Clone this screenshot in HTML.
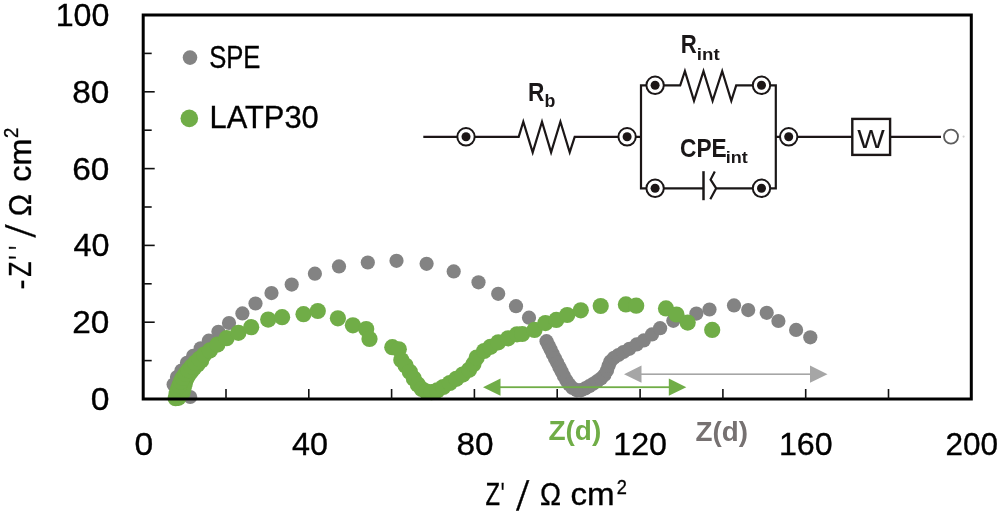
<!DOCTYPE html>
<html lang="en">
<head>
<meta charset="utf-8">
<title>Nyquist plot</title>
<style>
html,body{margin:0;padding:0;background:#ffffff;}
body{width:1000px;height:514px;overflow:hidden;}
svg{display:block;}
text{font-family:"Liberation Sans",sans-serif;fill:#000;}
.n{stroke:#000;stroke-width:0.35px;}
.b{font-weight:bold;}
</style>
</head>
<body>
<svg width="1000" height="514" viewBox="0 0 1000 514">
<defs><filter id="soft" x="-5%" y="-5%" width="110%" height="110%"><feGaussianBlur stdDeviation="0.45"/></filter></defs>
<rect x="0" y="0" width="1000" height="514" fill="#ffffff"/>

<g fill="#838383">
<circle cx="190.2" cy="397.0" r="7.1"/>
<circle cx="173.6" cy="384.5" r="7.1"/>
<circle cx="177.0" cy="377.0" r="7.1"/>
<circle cx="181.5" cy="370.5" r="7.1"/>
<circle cx="187.0" cy="362.8" r="7.1"/>
<circle cx="193.1" cy="355.9" r="7.1"/>
<circle cx="200.7" cy="348.3" r="7.1"/>
<circle cx="208.8" cy="340.7" r="7.1"/>
<circle cx="218.4" cy="331.8" r="7.1"/>
<circle cx="229.0" cy="323.0" r="7.1"/>
<circle cx="242.4" cy="313.4" r="7.1"/>
<circle cx="255.5" cy="303.5" r="7.1"/>
<circle cx="271.5" cy="293.1" r="7.1"/>
<circle cx="291.7" cy="284.6" r="7.1"/>
<circle cx="314.9" cy="273.7" r="7.1"/>
<circle cx="339.0" cy="266.4" r="7.1"/>
<circle cx="367.8" cy="262.5" r="7.1"/>
<circle cx="396.5" cy="260.8" r="7.1"/>
<circle cx="426.6" cy="263.8" r="7.1"/>
<circle cx="453.7" cy="271.4" r="7.1"/>
<circle cx="478.5" cy="282.3" r="7.1"/>
<circle cx="498.2" cy="293.8" r="7.1"/>
<circle cx="516.0" cy="306.2" r="7.1"/>
<circle cx="529.0" cy="317.7" r="7.1"/>
<circle cx="546.5" cy="341.2" r="7.1"/>
<circle cx="548.6" cy="345.4" r="7.1"/>
<circle cx="550.6" cy="349.6" r="7.1"/>
<circle cx="552.8" cy="354.0" r="7.1"/>
<circle cx="555.0" cy="358.4" r="7.1"/>
<circle cx="557.2" cy="362.8" r="7.1"/>
<circle cx="559.4" cy="367.2" r="7.1"/>
<circle cx="561.6" cy="371.6" r="7.1"/>
<circle cx="563.9" cy="376.0" r="7.1"/>
<circle cx="566.4" cy="380.4" r="7.1"/>
<circle cx="569.2" cy="384.6" r="7.1"/>
<circle cx="572.6" cy="388.0" r="7.1"/>
<circle cx="576.8" cy="390.2" r="7.1"/>
<circle cx="581.0" cy="390.2" r="7.1"/>
<circle cx="585.2" cy="388.4" r="7.1"/>
<circle cx="589.2" cy="386.2" r="7.1"/>
<circle cx="593.2" cy="383.8" r="7.1"/>
<circle cx="597.2" cy="381.2" r="7.1"/>
<circle cx="601.0" cy="378.4" r="7.1"/>
<circle cx="604.4" cy="375.0" r="7.1"/>
<circle cx="607.0" cy="370.6" r="7.1"/>
<circle cx="608.6" cy="365.8" r="7.1"/>
<circle cx="610.4" cy="361.4" r="7.1"/>
<circle cx="614.0" cy="357.8" r="7.1"/>
<circle cx="618.4" cy="355.0" r="7.1"/>
<circle cx="623.4" cy="352.0" r="7.1"/>
<circle cx="629.4" cy="348.8" r="7.1"/>
<circle cx="636.7" cy="344.4" r="7.1"/>
<circle cx="643.8" cy="340.4" r="7.1"/>
<circle cx="652.0" cy="334.4" r="7.1"/>
<circle cx="660.1" cy="328.2" r="7.1"/>
<circle cx="673.3" cy="320.8" r="7.1"/>
<circle cx="696.4" cy="313.6" r="7.1"/>
<circle cx="709.5" cy="309.5" r="7.1"/>
<circle cx="734.0" cy="305.4" r="7.1"/>
<circle cx="748.2" cy="310.1" r="7.1"/>
<circle cx="766.7" cy="312.8" r="7.1"/>
<circle cx="778.4" cy="321.0" r="7.1"/>
<circle cx="796.1" cy="329.9" r="7.1"/>
<circle cx="810.3" cy="337.3" r="7.1"/>
</g>
<g fill="#70ad47">
<circle cx="184.8" cy="383.6" r="8.1"/>
<circle cx="186.2" cy="379.2" r="8.1"/>
<circle cx="188.4" cy="375.2" r="8.1"/>
<circle cx="191.0" cy="371.6" r="8.1"/>
<circle cx="194.0" cy="368.0" r="8.1"/>
<circle cx="197.4" cy="364.4" r="8.1"/>
<circle cx="201.2" cy="360.6" r="8.1"/>
<circle cx="175.6" cy="398.2" r="8.1"/>
<circle cx="178.4" cy="397.8" r="8.1"/>
<circle cx="176.6" cy="393.8" r="8.1"/>
<circle cx="182.6" cy="392.6" r="8.1"/>
<circle cx="177.8" cy="389.6" r="8.1"/>
<circle cx="183.6" cy="388.2" r="8.1"/>
<circle cx="179.3" cy="385.6" r="8.1"/>
<circle cx="180.8" cy="381.6" r="8.1"/>
<circle cx="182.8" cy="377.8" r="8.1"/>
<circle cx="185.4" cy="374.0" r="8.1"/>
<circle cx="188.4" cy="370.2" r="8.1"/>
<circle cx="191.6" cy="366.6" r="8.1"/>
<circle cx="195.2" cy="362.8" r="8.1"/>
<circle cx="199.4" cy="358.8" r="8.1"/>
<circle cx="204.2" cy="354.6" r="8.1"/>
<circle cx="209.8" cy="350.4" r="8.1"/>
<circle cx="217.4" cy="344.6" r="8.1"/>
<circle cx="226.6" cy="338.2" r="8.1"/>
<circle cx="238.4" cy="332.8" r="8.1"/>
<circle cx="251.2" cy="327.2" r="8.1"/>
<circle cx="268.2" cy="319.6" r="8.1"/>
<circle cx="282.1" cy="317.2" r="8.1"/>
<circle cx="303.5" cy="314.2" r="8.1"/>
<circle cx="317.8" cy="311.0" r="8.1"/>
<circle cx="337.9" cy="318.3" r="8.1"/>
<circle cx="352.9" cy="325.3" r="8.1"/>
<circle cx="366.2" cy="329.1" r="8.1"/>
<circle cx="369.5" cy="338.9" r="8.1"/>
<circle cx="392.3" cy="347.2" r="8.1"/>
<circle cx="398.8" cy="349.3" r="8.1"/>
<circle cx="401.3" cy="360.0" r="8.1"/>
<circle cx="405.6" cy="365.6" r="8.1"/>
<circle cx="409.8" cy="371.8" r="8.1"/>
<circle cx="413.8" cy="378.4" r="8.1"/>
<circle cx="417.8" cy="384.4" r="8.1"/>
<circle cx="421.8" cy="389.0" r="8.1"/>
<circle cx="426.3" cy="391.6" r="8.1"/>
<circle cx="431.5" cy="392.2" r="8.1"/>
<circle cx="437.2" cy="390.4" r="8.1"/>
<circle cx="443.2" cy="387.0" r="8.1"/>
<circle cx="449.8" cy="383.0" r="8.1"/>
<circle cx="456.3" cy="378.8" r="8.1"/>
<circle cx="462.7" cy="374.6" r="8.1"/>
<circle cx="469.1" cy="369.8" r="8.1"/>
<circle cx="473.4" cy="364.2" r="8.1"/>
<circle cx="476.7" cy="357.6" r="8.1"/>
<circle cx="484.1" cy="351.0" r="8.1"/>
<circle cx="490.5" cy="346.8" r="8.1"/>
<circle cx="498.3" cy="342.3" r="8.1"/>
<circle cx="508.1" cy="338.3" r="8.1"/>
<circle cx="517.0" cy="334.3" r="8.1"/>
<circle cx="522.2" cy="334.0" r="8.1"/>
<circle cx="534.5" cy="329.9" r="8.1"/>
<circle cx="545.4" cy="323.1" r="8.1"/>
<circle cx="556.3" cy="319.9" r="8.1"/>
<circle cx="567.2" cy="315.0" r="8.1"/>
<circle cx="580.8" cy="310.3" r="8.1"/>
<circle cx="600.7" cy="306.0" r="8.1"/>
<circle cx="625.9" cy="304.4" r="8.1"/>
<circle cx="636.2" cy="305.7" r="8.1"/>
<circle cx="666.0" cy="308.4" r="8.1"/>
<circle cx="676.5" cy="314.5" r="8.1"/>
<circle cx="687.7" cy="322.6" r="8.1"/>
<circle cx="712.2" cy="329.9" r="8.1"/>
</g>
<g fill="#70ad47" stroke="none"><rect x="499.5" y="386.3" width="170.3" height="1.8"/><polygon points="483.0,387.2 500.5,378.6 500.5,395.8"/><polygon points="686.3,387.2 668.8,378.6 668.8,395.8"/></g>
<g fill="#a6a6a6" stroke="none"><rect x="640.5" y="373.4" width="170.5" height="1.6"/><polygon points="624.0,374.2 641.5,365.6 641.5,382.8"/><polygon points="827.5,374.2 810.0,365.6 810.0,382.8"/></g>
<rect x="143.2" y="15.0" width="828.1" height="384.0" fill="none" stroke="#000" stroke-width="3"/>
<g stroke="#111" stroke-width="1.6">
<line x1="143.2" y1="360.6" x2="151.7" y2="360.6"/>
<line x1="143.2" y1="322.2" x2="154.7" y2="322.2"/>
<line x1="143.2" y1="283.8" x2="151.7" y2="283.8"/>
<line x1="143.2" y1="245.4" x2="154.7" y2="245.4"/>
<line x1="143.2" y1="207.0" x2="151.7" y2="207.0"/>
<line x1="143.2" y1="168.6" x2="154.7" y2="168.6"/>
<line x1="143.2" y1="130.2" x2="151.7" y2="130.2"/>
<line x1="143.2" y1="91.8" x2="154.7" y2="91.8"/>
<line x1="143.2" y1="53.4" x2="151.7" y2="53.4"/>
<line x1="226.0" y1="399.0" x2="226.0" y2="389.0"/>
<line x1="308.8" y1="399.0" x2="308.8" y2="389.0"/>
<line x1="391.6" y1="399.0" x2="391.6" y2="389.0"/>
<line x1="474.4" y1="399.0" x2="474.4" y2="389.0"/>
<line x1="557.2" y1="399.0" x2="557.2" y2="389.0"/>
<line x1="640.1" y1="399.0" x2="640.1" y2="389.0"/>
<line x1="722.9" y1="399.0" x2="722.9" y2="389.0"/>
<line x1="805.7" y1="399.0" x2="805.7" y2="389.0"/>
<line x1="888.5" y1="399.0" x2="888.5" y2="389.0"/>
</g>
<circle cx="190" cy="57.6" r="7.3" fill="#838383"/>
<circle cx="189.3" cy="118.4" r="8.8" fill="#70ad47"/>
<g filter="url(#soft)">
<g fill="none" stroke="#1a1718" stroke-width="2.2" stroke-linejoin="miter" stroke-miterlimit="10" stroke-linecap="butt">
<path d="M423.3,136.8 H518.7 L523.3,121.8 L532.7,152.4 L542,121.8 L551.1,152.4 L560.4,121.8 L569.7,152.4 L574.7,136.8 H641.0"/>
<path d="M655,85.3 H641.0 V188.3 H655"/>
<path d="M761.5,85.3 H775.8 V188.3 H761.5"/>
<path d="M655,85.3 H680.2 L684.9,71.2 L694,100.8 L703.5,71.2 L712.6,100.8 L722.2,71.2 L731.3,100.8 L736.2,85.3 H761.5"/>
<path d="M655,188.3 H703.5"/>
<path d="M703.5,171.2 V200.2" stroke-width="2.5"/>
<path d="M714.8,171.4 L710.6,179.6 L716.2,188.3 L710.3,199.2 M715.6,188.3 H761.5"/>
<path d="M775.8,136.8 H852.3 M890.1,136.8 H941"/>
<rect x="852.3" y="118.9" width="37.8" height="36" stroke-width="2.4"/>
</g>
<circle cx="466.0" cy="136.8" r="8.7" fill="#fff" stroke="#1a1718" stroke-width="2"/><circle cx="466.0" cy="136.8" r="4.5" fill="#1a1718"/>
<circle cx="627.1" cy="136.8" r="8.7" fill="#fff" stroke="#1a1718" stroke-width="2"/><circle cx="627.1" cy="136.8" r="4.5" fill="#1a1718"/>
<circle cx="655.1" cy="85.3" r="8.7" fill="#fff" stroke="#1a1718" stroke-width="2"/><circle cx="655.1" cy="85.3" r="4.5" fill="#1a1718"/>
<circle cx="761.5" cy="85.3" r="8.7" fill="#fff" stroke="#1a1718" stroke-width="2"/><circle cx="761.5" cy="85.3" r="4.5" fill="#1a1718"/>
<circle cx="655.1" cy="188.3" r="8.7" fill="#fff" stroke="#1a1718" stroke-width="2"/><circle cx="655.1" cy="188.3" r="4.5" fill="#1a1718"/>
<circle cx="761.5" cy="188.3" r="8.7" fill="#fff" stroke="#1a1718" stroke-width="2"/><circle cx="761.5" cy="188.3" r="4.5" fill="#1a1718"/>
<circle cx="788.7" cy="136.8" r="8.7" fill="#fff" stroke="#1a1718" stroke-width="2"/><circle cx="788.7" cy="136.8" r="4.5" fill="#1a1718"/>
<circle cx="951" cy="136.6" r="7.0" fill="#fff" stroke="#5c5c5c" stroke-width="1.8"/><circle cx="963.6" cy="136.6" r="1.1" fill="#d0d0d0"/>
</g>
<text transform="translate(90.71,409.90) scale(1.0933,1.000)" font-size="30.8" class="n" style="fill:#000">0</text>
<text transform="translate(72.32,333.10) scale(1.0832,1.000)" font-size="30.8" class="n" style="fill:#000">20</text>
<text transform="translate(73.40,256.30) scale(1.0505,1.000)" font-size="30.8" class="n" style="fill:#000">40</text>
<text transform="translate(72.32,179.50) scale(1.0832,1.000)" font-size="30.8" class="n" style="fill:#000">60</text>
<text transform="translate(72.32,102.70) scale(1.0832,1.000)" font-size="30.8" class="n" style="fill:#000">80</text>
<text transform="translate(55.71,25.90) scale(1.0444,1.000)" font-size="30.8" class="n" style="fill:#000">100</text>
<text transform="translate(134.41,455.40) scale(1.0933,1.000)" font-size="30.8" class="n" style="fill:#000">0</text>
<text transform="translate(291.92,455.40) scale(1.0505,1.000)" font-size="30.8" class="n" style="fill:#000">40</text>
<text transform="translate(456.46,455.40) scale(1.0832,1.000)" font-size="30.8" class="n" style="fill:#000">80</text>
<text transform="translate(613.27,455.40) scale(1.0444,1.000)" font-size="30.8" class="n" style="fill:#000">120</text>
<text transform="translate(778.89,455.40) scale(1.0444,1.000)" font-size="30.8" class="n" style="fill:#000">160</text>
<text transform="translate(945.58,455.40) scale(1.0232,1.000)" font-size="30.8" class="n" style="fill:#000">200</text>
<text transform="translate(209.17,68.00) scale(0.8322,1.000)" font-size="30.8" class="n" style="fill:#000">SPE</text>
<text transform="translate(209.60,128.40) scale(1.0013,1.000)" font-size="30.8" class="n" style="fill:#000">LATP30</text>
<text transform="translate(485.60,505.30) scale(0.7722,1.000)" font-size="30.8" class="n" style="fill:#000">Z</text>
<text transform="translate(500.85,505.30) scale(0.6500,1.000)" font-size="30.8" class="n" style="fill:#000">'</text>
<text transform="translate(516.30,509.80) skewX(-8.4) scale(1.0000,1.335)" font-size="30.8" class="n" style="fill:#000">/</text>
<text transform="translate(539.89,505.30) scale(0.9143,1.000)" font-size="30.8" class="n" style="fill:#000">Ω</text>
<text transform="translate(570.42,505.30) scale(1.0756,1.000)" font-size="30.8" class="n" style="fill:#000">cm</text>
<text transform="translate(616.69,494.00) scale(0.9100,1.000)" font-size="20.0" class="n" style="fill:#000">2</text>
<text transform="translate(30.8,288.5) rotate(-90) translate(-0.97,0.00) scale(0.9750,1.000)" font-size="30.8" class="n" style="fill:#000">-</text>
<text transform="translate(30.8,288.5) rotate(-90) translate(11.70,0.00) scale(0.8056,1.000)" font-size="30.8" class="n" style="fill:#000">Z</text>
<text transform="translate(30.8,288.5) rotate(-90) translate(29.05,0.00) scale(0.6500,1.000)" font-size="30.8" class="n" style="fill:#000">'</text>
<text transform="translate(30.8,288.5) rotate(-90) translate(38.85,0.00) scale(0.6500,1.000)" font-size="30.8" class="n" style="fill:#000">'</text>
<text transform="translate(30.8,288.5) rotate(-90) translate(51.00,4.40) skewX(-8.4) scale(1.0000,1.335)" font-size="30.8" class="n" style="fill:#000">/</text>
<text transform="translate(30.8,288.5) rotate(-90) translate(72.23,0.00) scale(0.9714,1.000)" font-size="30.8" class="n" style="fill:#000">Ω</text>
<text transform="translate(30.8,288.5) rotate(-90) translate(106.75,0.00) scale(1.0495,1.000)" font-size="30.8" class="n" style="fill:#000">cm</text>
<text transform="translate(30.8,288.5) rotate(-90) translate(150.47,-13.30) scale(0.9300,1.000)" font-size="20.0" class="n" style="fill:#000">2</text>
<text transform="translate(548.40,440.00) scale(1.0075,1.000)" font-size="27.8" class="b" style="fill:#70ad47">Z(d)</text>
<text transform="translate(695.60,441.00) scale(0.9786,1.000)" font-size="28.4" class="b" style="fill:#767171">Z(d)</text>
<text transform="translate(857.30,147.70) scale(1.1000,1.000)" font-size="26.5" style="fill:#1a1718">W</text>
<text transform="translate(528.11,100.60) scale(0.8882,1.000)" font-size="25.5" class="b" style="fill:#1a1718">R</text>
<text transform="translate(544.39,106.60) scale(1.0100,1.000)" font-size="17.6" class="b" style="fill:#1a1718">b</text>
<text transform="translate(680.63,53.40) scale(0.8706,1.000)" font-size="25.5" class="b" style="fill:#1a1718">R</text>
<text transform="translate(696.82,59.70) scale(1.0756,1.000)" font-size="17.4" class="b" style="fill:#1a1718">int</text>
<text transform="translate(680.04,156.70) scale(0.8602,1.000)" font-size="26.4" class="b" style="fill:#1a1718">CPE</text>
<text transform="translate(725.86,163.10) scale(1.0364,1.000)" font-size="17.4" class="b" style="fill:#1a1718">int</text>
</svg>
</body>
</html>
